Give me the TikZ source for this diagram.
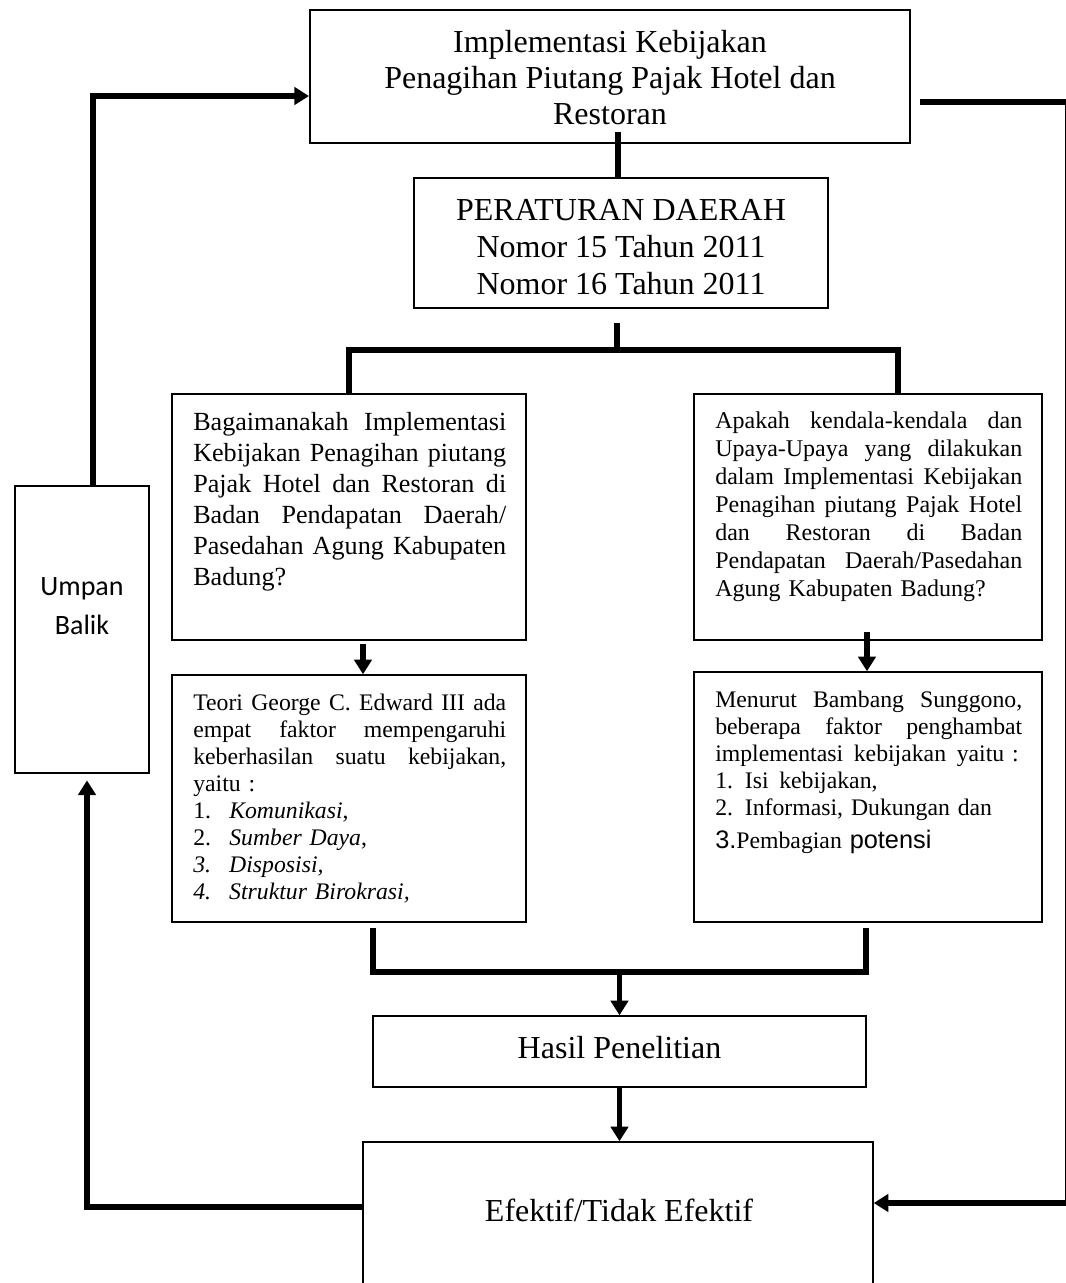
\documentclass[tikz,border=0pt]{standalone}
\usepackage{fontspec}
\setmainfont{Liberation Serif}
\newfontfamily\calfont{Carlito}
\newfontfamily\arfont{Liberation Sans}
\usetikzlibrary{arrows.meta,fit,calc}
\newcommand{\jla}[1]{\makebox[234.75pt][s]{\spaceskip=0.25em plus 2em\relax\xspaceskip=0pt\relax #1}}
\newcommand{\jlb}[1]{\makebox[230.25pt][s]{\spaceskip=0.25em plus 2em\relax\xspaceskip=0pt\relax #1}}
\newcommand{\numb}[1]{\makebox[27pt][l]{#1}}
\begin{document}
\begin{tikzpicture}[x=0.75pt,y=-0.75pt,
  box/.style={draw, line width=1.1pt, inner sep=0pt},
  conn/.style={line width=4pt},
  arr/.style={line width=4pt, -{Triangle[length=11pt,width=13pt]}},
  txt/.style={inner sep=0pt, align=left, anchor=north west}]
\useasboundingbox (0,0) rectangle (1066,1283);
\clip (0,0) rectangle (1066,1283);

% boxes
\node[box, line width=1.5pt, fit={(310,10) (910,143)}] (T) {};
\node[font=\fontsize{24}{27}\selectfont, align=center, inner sep=0pt] (Tt) at ([yshift=-1pt]T.center)
  {Implementasi Kebijakan\\Penagihan Piutang Pajak Hotel dan\\Restoran};

\node[box, line width=1.5pt, fit={(414,178) (828,308)}] (P) {};
\node[font=\fontsize{24}{27.75}\selectfont, align=center, inner sep=0pt] (Pt) at ([yshift=-3pt]P.center)
  {PERATURAN DAERAH\\Nomor 15 Tahun 2011\\Nomor 16 Tahun 2011};

\node[box, fit={(172,394) (526,640)}] (Q1) {};
\node[txt, text width=234.75pt, font=\fontsize{19.6}{23.25}\selectfont] (Q1t) at (193,412)
  {\jla{Bagaimanakah Implementasi}\\\jla{Kebijakan Penagihan piutang}\\\jla{Pajak Hotel dan Restoran di}\\\jla{Badan Pendapatan Daerah/}\\\jla{Pasedahan Agung Kabupaten}\\Badung?};

\node[box, fit={(694,394) (1042,640)}] (Q2) {};
\node[txt, text width=230.25pt, font=\fontsize{18}{21}\selectfont] (Q2t) at (715,412)
  {\jlb{Apakah kendala-kendala dan}\\\jlb{Upaya-Upaya yang dilakukan}\\\jlb{dalam Implementasi Kebijakan}\\\jlb{Penagihan piutang Pajak Hotel}\\\jlb{dan Restoran di Badan}\\\jlb{Pendapatan Daerah/Pasedahan}\\Agung Kabupaten Badung?};

\node[box, fit={(172,675) (526,922)}] (T1) {};
\node[txt, text width=234.75pt, font=\fontsize{17.8}{20.25}\selectfont] (T1t) at (193,694)
  {\jla{Teori George C. Edward III ada}\\\jla{empat faktor mempengaruhi}\\\jla{keberhasilan suatu kebijakan,}\\yaitu :\\
   \numb{1.}\textit{Komunikasi},\\\numb{2.}\textit{Sumber Daya},\\\textit{\numb{3.}Disposisi,}\\\textit{\numb{4.}Struktur Birokrasi,}};

\node[box, fit={(694,672) (1042,922)}] (T2) {};
\node[txt, text width=230.25pt, font=\fontsize{17.8}{20.25}\selectfont] (T2t) at (715,691)
  {\jlb{Menurut Bambang Sunggono,}\\\jlb{beberapa faktor penghambat}\\\mbox{implementasi\hspace{0.45em}kebijakan\hspace{0.45em}yaitu :}\\1. Isi\hspace{0.45em}kebijakan,\\2. Informasi, Dukungan dan\\[4.5pt]
   {\arfont\fontsize{19}{20}\selectfont 3.}Pembagian {\arfont\fontsize{19}{20}\selectfont potensi}};

\node[box, fit={(373,1016) (866,1087)}] (H) {};
\node[font=\fontsize{24}{27}\selectfont, inner sep=0pt] (Ht) at ([yshift=3pt]H.center) {Hasil Penelitian};

\node[box, fit={(363,1142) (873,1320)}] (E) {};
\node[font=\fontsize{24}{27}\selectfont, inner sep=0pt] (Et) at (619,1210) {Efektif/Tidak Efektif};

\node[box, fit={(15,486) (149,773)}] (U) {};
\node[font=\calfont\fontsize{21}{29}\selectfont, align=center, inner sep=0pt] (Ut) at (82,606) {Umpan\\Balik};

% coordinates
\coordinate (tp) at (618,132);
\coordinate (splitTop) at (617,323);
\coordinate (split) at (617,350);
\coordinate (a1) at (363,644);
\coordinate (a2) at (867,632);
\coordinate (mLt) at (373,928);
\coordinate (mRt) at (866,928);
\coordinate (mL) at (373,972);
\coordinate (mR) at (866,972);
\coordinate (rS) at (920,102);
\coordinate (rTop) at (1068,102);
\coordinate (rBot) at (1068,1203);
\coordinate (lBot) at (87,1207);
\coordinate (lTop) at (93,96);

% connectors
\draw[conn] (tp) -- (tp |- P.north);
\draw[conn] (splitTop) -- (split);
\draw[conn] (Q1.north) |- (split) -| ([xshift=22.5pt]Q2.north);
\draw[arr] (a1) -- (a1 |- T1.north);
\draw[arr] (a2) -- (a2 |- T2.north);
\draw[conn] (mLt) -- (mL) -- (mR) -- (mRt);
\draw[arr] (mL -| H.north) -- (H.north);
\draw[arr] (H.south) -- (H.south |- E.north);
\draw[arr] (rS) -- (rTop) -- (rBot) -- (rBot -| E.east);
\draw[arr, shorten >=5pt] (E.west |- lBot) -- (lBot) -- (lBot |- U.south);
\draw[arr] (U.north -| lTop) -- (lTop) -- (lTop -| T.west);
\end{tikzpicture}
\end{document}
